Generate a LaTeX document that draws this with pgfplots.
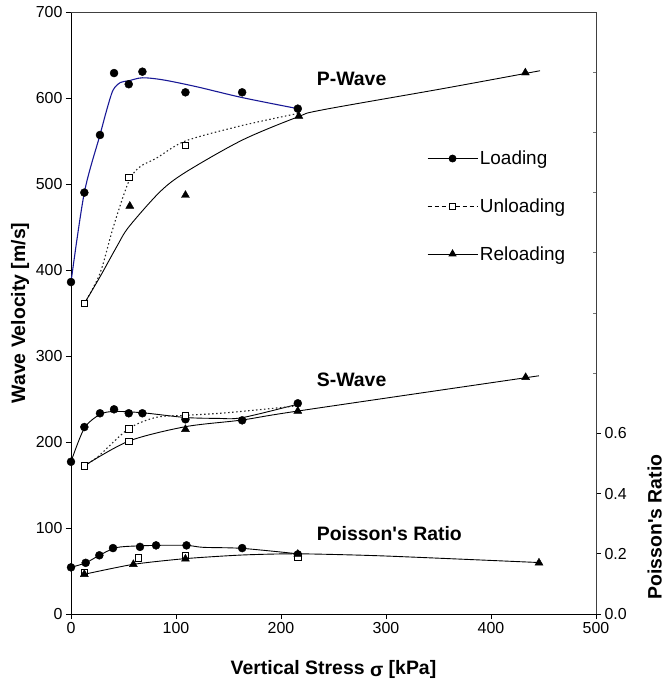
\documentclass[border=0pt]{standalone}
\usepackage{fontspec}
\setmainfont{Liberation Sans}[Ligatures=TeXOff]
\usepackage{pgfplots}
\pgfplotsset{compat=1.18}
\definecolor{pblue}{RGB}{25,25,150}

\begin{document}
\begin{tikzpicture}
\path[use as bounding box] (-71bp,-70bp) rectangle (595bp,614bp);
\begin{axis}[
  scale only axis, width=525bp, height=602bp,
  xmin=0, xmax=500, ymin=0, ymax=700,
  axis x line*=bottom, axis y line*=left,
  axis line style={-, line width=0.8bp},
  xtick={0,100,...,500}, ytick={0,100,...,700},
  tick align=outside, major tick length=5bp,
  tick style={black, line width=0.8bp},
  tick label style={font=\fontsize{16}{19}\selectfont},
  /pgf/number format/assume math mode=true,
  xlabel={Vertical Stress \raisebox{-0.25ex}{σ} [kPa]},
  ylabel={Wave Velocity [m/s]},
  label style={font=\fontsize{19.5}{23}\selectfont\bfseries},
  xlabel style={at={(axis description cs:0.5,-0.092)}, anchor=center},
  ylabel style={at={(axis description cs:-0.0971,0.5)}, anchor=center},
  clip=false,
  legend image code/.code={\draw[mark repeat=2,mark phase=2,#1] plot coordinates {(0bp,0bp) (25bp,0bp) (50bp,0bp)};},
  legend style={draw=none, fill=none, inner sep=0pt, at={(axis cs:339,541)}, anchor=north west,
    font=\fontsize{19}{23}\selectfont, row sep=28.5bp, cells={anchor=west}},
]
\addlegendimage{black, line width=0.8bp, mark=*, mark size=3.5bp}
\addlegendentry{Loading}
\addlegendimage{black, line width=0.8bp, dash pattern=on 4bp off 3bp, mark=square*, mark size=2.8bp, mark options={solid, fill=white, line width=0.6bp}}
\addlegendentry{Unloading}
\addlegendimage{black, line width=0.8bp, mark=triangle*, mark size=4bp}
\addlegendentry{Reloading}

% P-wave curves
\addplot[pblue, line width=1.1bp, smooth, tension=0.5] coordinates {
 (0,386) (12.7,490) (27.6,557) (34,586) (40,609) (47,618) (55,620) (68,623.5) (88,621) (120,613) (163,600.5) (216,587.6)};
\addplot[black!85, line width=1.1bp, dash pattern=on 1.5bp off 2.5bp, smooth, tension=0.5] coordinates {
 (12.7,361) (27.6,396) (40.3,450) (55,503) (65.7,520) (81.3,530) (109,550) (163,568) (216,582)};
\addplot[black, line width=0.9bp, smooth, tension=0.5] coordinates {
 (12.7,361) (27.6,392) (43.5,427) (55,450) (84.8,491) (109,513.6) (163,551) (216,578) (238.7,586) (354.6,611) (446.7,631.7)};
% S-wave curves
\addplot[black, line width=0.9bp, smooth, tension=0.5] coordinates {
 (0,177) (12.7,216) (27.6,232) (41,235.5) (68,234) (109,228.5) (139,227.5) (163,228.3) (216,244)};
\addplot[black!85, line width=1.1bp, dash pattern=on 1.5bp off 2.5bp, smooth, tension=0.5] coordinates {
 (12.7,172.4) (25.7,183) (55,215.5) (81.3,228.7) (109,231) (148.3,234) (216,242)};
\addplot[black, line width=0.9bp, smooth, tension=0.5] coordinates {
 (12.7,172.4) (55,201) (109,217.8) (163,225.6) (216,236) (445.7,277)};

% markers
\addplot[only marks, mark=*, mark size=4bp, black] coordinates {
 (0,386) (12.7,490) (27.6,557) (41,629) (55,616) (68,630.6) (109,606.6) (163,606.6) (216,587.6)
 (0,177) (12.7,217.4) (27.6,233.4) (41,238) (55,233.4) (68,233.4) (109,226.4) (163,225.2) (216,245)};
\addplot[only marks, mark=square*, mark size=3.2bp, black, mark options={fill=white, line width=0.7bp}] coordinates {
 (12.7,361) (55,507.8) (109,544.6)
 (12.7,172.4) (55,215.5) (55,201) (109,231)};
\addplot[only marks, mark=triangle*, mark size=4.6bp, black] coordinates {
 (56,474.4) (109,487) (217,579) (432.7,629.4)
 (109,214.8) (216,236) (433,275.2)};

\node[anchor=west, inner sep=0pt, font=\fontsize{19.5}{23}\selectfont\bfseries] at (axis cs:234,622) {P-Wave};
\node[anchor=west, inner sep=0pt, font=\fontsize{19.5}{23}\selectfont\bfseries] at (axis cs:234,272) {S-Wave};
\node[anchor=west, inner sep=0pt, font=\fontsize{19.5}{23}\selectfont\bfseries] at (axis cs:234,93) {Poisson's Ratio};
\end{axis}

\begin{axis}[
  scale only axis, width=525bp, height=602bp,
  xmin=0, xmax=500, ymin=0, ymax=2,
  axis x line*=top, axis y line*=right,
  axis line style={-, black!75, line width=0.8bp},
  xtick=\empty,
  ytick={0,0.2,0.4,0.6},
  yticklabel style={/pgf/number format/.cd, fixed, fixed zerofill, precision=1},
  tick align=outside, major tick length=5bp,
  tick style={black, line width=0.8bp},
  tick label style={font=\fontsize{16}{19}\selectfont},
  /pgf/number format/assume math mode=true,
  extra y ticks={0.8,1,1.2,1.4,1.6,1.8}, extra y tick labels={},
  extra y tick style={tick align=inside, major tick length=3bp, tick style={black!55, line width=0.6bp}},
  ylabel={Poisson's Ratio},
  ylabel style={font=\fontsize{19.5}{23}\selectfont\bfseries, at={(axis description cs:1.112,0.1445)}, anchor=center},
  clip=false,
]
\addplot[black, line width=0.9bp, smooth, tension=0.5] coordinates {
 (0,0.155) (14,0.170) (27,0.195) (40,0.217) (50.9,0.224) (81,0.228) (110,0.228) (126,0.2215) (163,0.218) (216,0.2)};
\addplot[black, line width=0.9bp, smooth, tension=0.4] coordinates {
 (12.7,0.132) (59.4,0.165) (109,0.184) (163,0.196) (216,0.2) (297,0.193) (445.7,0.171)};
\addplot[only marks, mark=*, mark size=4bp, black] coordinates {
 (0,0.155) (14,0.170) (27,0.195) (40,0.219) (65.7,0.223) (81,0.228) (110,0.228) (163,0.219) (216,0.198)};
\addplot[only marks, mark=square*, mark size=3.2bp, black, mark options={fill=white, line width=0.7bp}] coordinates {
 (12.7,0.138) (64.4,0.187) (109,0.195) (216,0.19)};
\addplot[only marks, mark=triangle*, mark size=4.6bp, black] coordinates {
 (12.7,0.132) (59.4,0.165) (109,0.183) (216,0.199) (445.7,0.170)};
\end{axis}
\end{tikzpicture}
\end{document}
